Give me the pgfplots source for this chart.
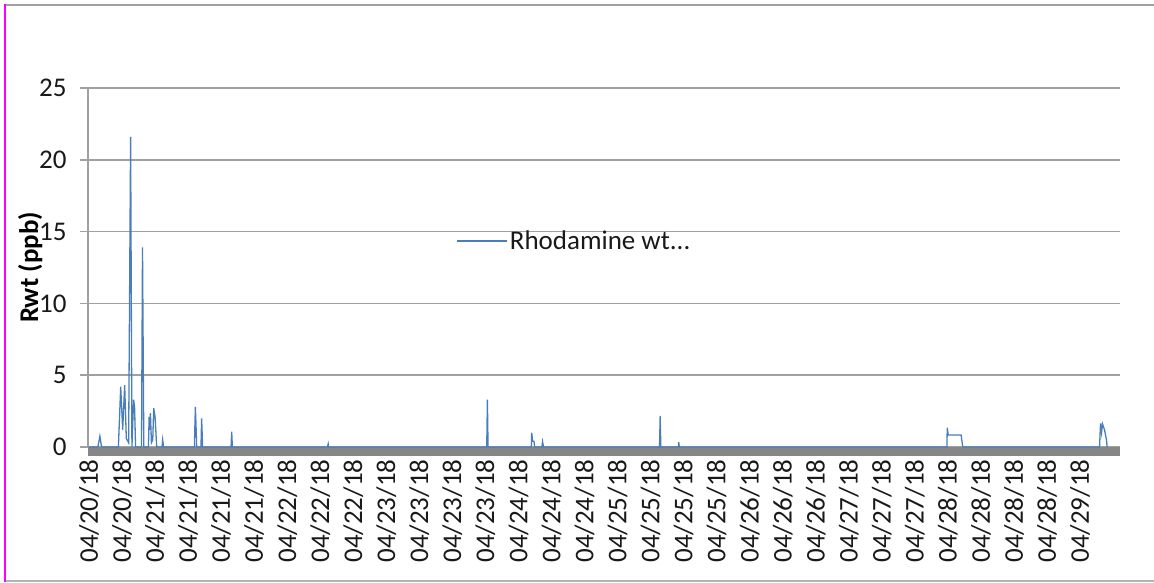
\documentclass[border=0pt]{standalone}
\usepackage{fontspec}
\setmainfont{Carlito}
\usepackage{pgfplots}
\pgfplotsset{compat=1.18}
\definecolor{serblue}{RGB}{74,126,187}
\definecolor{gridgray}{RGB}{160,160,160}
\definecolor{bargray}{RGB}{134,134,134}
\definecolor{magline}{RGB}{255,0,255}
\begin{document}
\begin{tikzpicture}[x=1pt,y=1pt]
\useasboundingbox (0,0) rectangle (1154,582);
\draw[gridgray, line width=2pt] (5,577) -- (1154,577);
\draw[gridgray!80, line width=1.5pt] (5,1) -- (1154,1);
\draw[magline, line width=1.5pt] (5,0) -- (5,578);
\begin{axis}[
  at={(88pt,135pt)}, anchor=south west,
  scale only axis, width=1032pt, height=359pt,
  xmin=-0.03, xmax=31.21, ymin=0, ymax=25,
  axis lines*=left,
  x axis line style={draw=none},
  y axis line style={gridgray, line width=1.5pt},
  ytick={0,5,...,25},
  xtick={0,...,30},
  xticklabels={04/20/18,04/20/18,04/21/18,04/21/18,04/21/18,04/21/18,04/22/18,04/22/18,04/22/18,04/23/18,04/23/18,04/23/18,04/23/18,04/24/18,04/24/18,04/24/18,04/25/18,04/25/18,04/25/18,04/25/18,04/26/18,04/26/18,04/26/18,04/27/18,04/27/18,04/27/18,04/28/18,04/28/18,04/28/18,04/28/18,04/29/18},
  xtick style={draw=none},
  ytick style={gridgray, line width=1.5pt},
  tick align=outside,
  major tick length=8pt,
  ymajorgrids,
  grid style={gridgray, line width=1.5pt},
  tick label style={font=\fontsize{27}{31}\selectfont, text=black!90},
  xticklabel style={rotate=90, anchor=east, xshift=-1pt},
  yticklabel style={xshift=-10pt},
  /pgf/number format/assume math mode=true,
  ylabel={Rwt (ppb)},
  ylabel style={font=\fontsize{27}{31}\selectfont\bfseries, text=black, at={(axis description cs:-0.056,0.5)}, anchor=center},
  legend style={at={(axis description cs:0.354,0.574)}, anchor=west, draw=none, fill=none, font=\fontsize{27}{31}\selectfont, text=black!90},
  legend image code/.code={\draw[#1] (0pt,0pt) -- (50pt,0pt);},
  clip=false,
]
\fill[bargray] (rel axis cs:0,0) rectangle ([yshift=-9pt]rel axis cs:1,0);
\addplot[serblue, line width=1.3pt] coordinates {
(0,0) (0.27,0) (0.33,0.75) (0.38,0) (0.89,0) (0.96,4.2) (1.02,1.2) (1.08,4.3)
(1.13,0.6) (1.20,0.3) (1.26,21.6) (1.30,0) (1.35,3.3) (1.38,2.8) (1.41,0)
(1.59,0) (1.62,13.9) (1.66,0) (1.80,0) (1.82,2.1) (1.84,1.2) (1.86,2.35)
(1.89,0.3) (1.93,0.5) (1.96,2.7) (2.00,2.1) (2.05,0) (2.21,0) (2.23,0.5)
(2.26,0) (3.19,0) (3.22,2.8) (3.24,1.5) (3.26,0) (3.39,0) (3.41,2.0) (3.44,0)
(4.30,0) (4.32,1.07) (4.34,0) (7.22,0) (7.24,0.2) (7.25,0) (12.04,0)
(12.06,3.3) (12.08,0) (13.39,0) (13.40,1.0) (13.43,0.4) (13.47,0.4) (13.49,0)
(13.71,0) (13.73,0.37) (13.76,0) (17.27,0) (17.29,2.16) (17.31,0) (17.84,0)
(17.85,0.35) (17.87,0) (25.97,0) (25.98,1.35) (26.01,0.83) (26.40,0.83)
(26.45,0) (30.59,0) (30.62,1.65) (30.65,1.0) (30.68,1.6) (30.74,1.2)
(30.80,0.5) (30.82,0)
};
\addlegendentry{Rhodamine wt...}
\end{axis}
\end{tikzpicture}
\end{document}
